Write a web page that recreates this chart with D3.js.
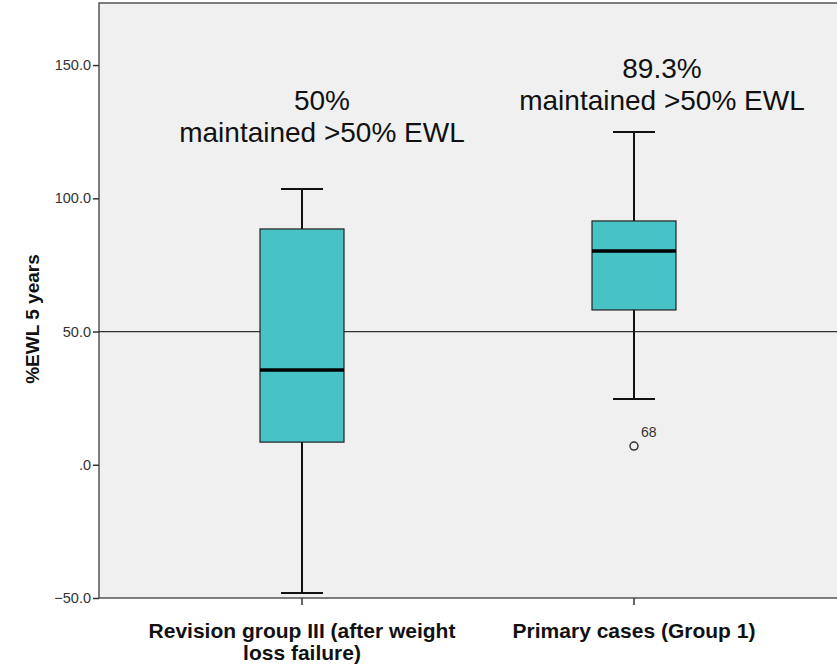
<!DOCTYPE html>
<html>
<head>
<meta charset="utf-8">
<script src="https://cdn.jsdelivr.net/npm/d3@7"></script>
<style>
  body { margin: 0; background: #fff; }
  svg { display: block; font-family: "Liberation Sans", Arial, sans-serif; }
</style>
</head>
<body>
<div id="chart"></div>
<script>
// data
var groups = ["Revision group III (after weight loss failure)", "Primary cases (Group 1)"];
var groupLines = [["Revision group III (after weight", "loss failure)"], ["Primary cases (Group 1)"]];
var whiskerLow = [-48.1, 24.7];
var q1 = [8.5, 58.1];
var median = [35.6, 80.2];
var q3 = [88.5, 91.5];
var whiskerHigh = [103.5, 124.9];
var outliers = [{ g: 1, v: 7.0, label: "68" }];
var notes = [["50%", "maintained >50% EWL"], ["89.3%", "maintained >50% EWL"]];
var yTicks = [-50, 0, 50, 100, 150];
var refLine = 50;

var width = 837, height = 665;
var margin = { left: 99, top: 3, bottom: 598 };

var svg = d3.select("#chart").append("svg")
    .attr("width", width)
    .attr("height", height);

var y = d3.scaleLinear().domain([-50, 173.3]).range([margin.bottom, margin.top]);
var x = d3.scaleBand().domain(groups).range([136, 800]);
var boxW = 84;

// plot background
svg.append("rect")
  .attr("x", margin.left).attr("y", margin.top)
  .attr("width", width - margin.left + 5).attr("height", margin.bottom - margin.top)
  .attr("fill", "#f0f0f0")
  .attr("stroke", "#555").attr("stroke-width", 1.5);

// y axis
var yAxis = svg.append("g")
    .attr("transform", "translate(" + margin.left + ",0)")
    .call(d3.axisLeft(y).tickValues(yTicks).tickSize(6).tickPadding(2)
      .tickFormat(function(d) { return d === 0 ? ".0" : d3.format(".1f")(d); }));
yAxis.select(".domain").remove();
yAxis.selectAll("line").attr("stroke", "#333").attr("stroke-width", 1.5);
yAxis.selectAll("text").attr("fill", "#333").style("font-size", "14.5px")
  .style("font-family", "Liberation Sans, Arial, sans-serif");

// x axis
var xAxis = svg.append("g")
    .attr("transform", "translate(0," + margin.bottom + ")")
    .call(d3.axisBottom(x).tickSize(7).tickFormat(""));
xAxis.select(".domain").remove();
xAxis.selectAll("line").attr("stroke", "#333").attr("stroke-width", 1.5);

groups.forEach(function(g, i) {
  var t = svg.append("text")
    .attr("x", x(g) + x.bandwidth() / 2)
    .attr("y", 638)
    .attr("text-anchor", "middle")
    .attr("fill", "#111")
    .style("font-size", "21px")
    .style("font-weight", "bold");
  groupLines[i].forEach(function(line, j) {
    t.append("tspan").attr("x", x(g) + x.bandwidth() / 2).attr("dy", j === 0 ? 0 : 22).text(line);
  });
});

// y axis title
svg.append("text")
  .attr("transform", "translate(39,319) rotate(-90)")
  .attr("text-anchor", "middle")
  .attr("fill", "#111")
  .style("font-size", "19px")
  .style("font-weight", "bold")
  .text("%EWL 5 years");

// reference line
svg.append("line")
  .attr("x1", margin.left).attr("x2", width)
  .attr("y1", y(refLine)).attr("y2", y(refLine))
  .attr("stroke", "#333").attr("stroke-width", 1.2);

// boxes
var boxes = svg.append("g").selectAll("g")
    .data(groups)
    .enter().append("g");

boxes.each(function(g, i) {
  var sel = d3.select(this);
  var cx = x(g) + x.bandwidth() / 2;
  sel.append("line")
    .attr("x1", cx).attr("x2", cx)
    .attr("y1", y(whiskerHigh[i])).attr("y2", y(whiskerLow[i]))
    .attr("stroke", "#111").attr("stroke-width", 2);
  [whiskerHigh[i], whiskerLow[i]].forEach(function(v) {
    sel.append("line")
      .attr("x1", cx - 21).attr("x2", cx + 21)
      .attr("y1", y(v)).attr("y2", y(v))
      .attr("stroke", "#111").attr("stroke-width", 2);
  });
  sel.append("rect")
    .attr("x", cx - boxW / 2).attr("width", boxW)
    .attr("y", y(q3[i])).attr("height", y(q1[i]) - y(q3[i]))
    .attr("fill", "#47c2c5")
    .attr("stroke", "#222").attr("stroke-width", 1.2);
  sel.append("line")
    .attr("x1", cx - boxW / 2).attr("x2", cx + boxW / 2)
    .attr("y1", y(median[i])).attr("y2", y(median[i]))
    .attr("stroke", "#000").attr("stroke-width", 3.5);
});

// outliers
outliers.forEach(function(o) {
  var cx = x(groups[o.g]) + x.bandwidth() / 2;
  svg.append("circle")
    .attr("cx", cx).attr("cy", y(o.v)).attr("r", 4)
    .attr("fill", "none").attr("stroke", "#333").attr("stroke-width", 1.5);
  svg.append("text")
    .attr("x", cx + 7).attr("y", y(o.v) - 9)
    .attr("fill", "#333")
    .style("font-size", "14px")
    .text(o.label);
});

// annotations above boxes
var noteX = [322, 662];
var noteY = [110, 78];
notes.forEach(function(lines, i) {
  var t = svg.append("text")
    .attr("x", noteX[i]).attr("y", noteY[i])
    .attr("text-anchor", "middle")
    .attr("fill", "#111")
    .style("font-size", "28px");
  lines.forEach(function(line, j) {
    t.append("tspan").attr("x", noteX[i]).attr("dy", j === 0 ? 0 : 32).text(line);
  });
});
</script>
</body>
</html>
